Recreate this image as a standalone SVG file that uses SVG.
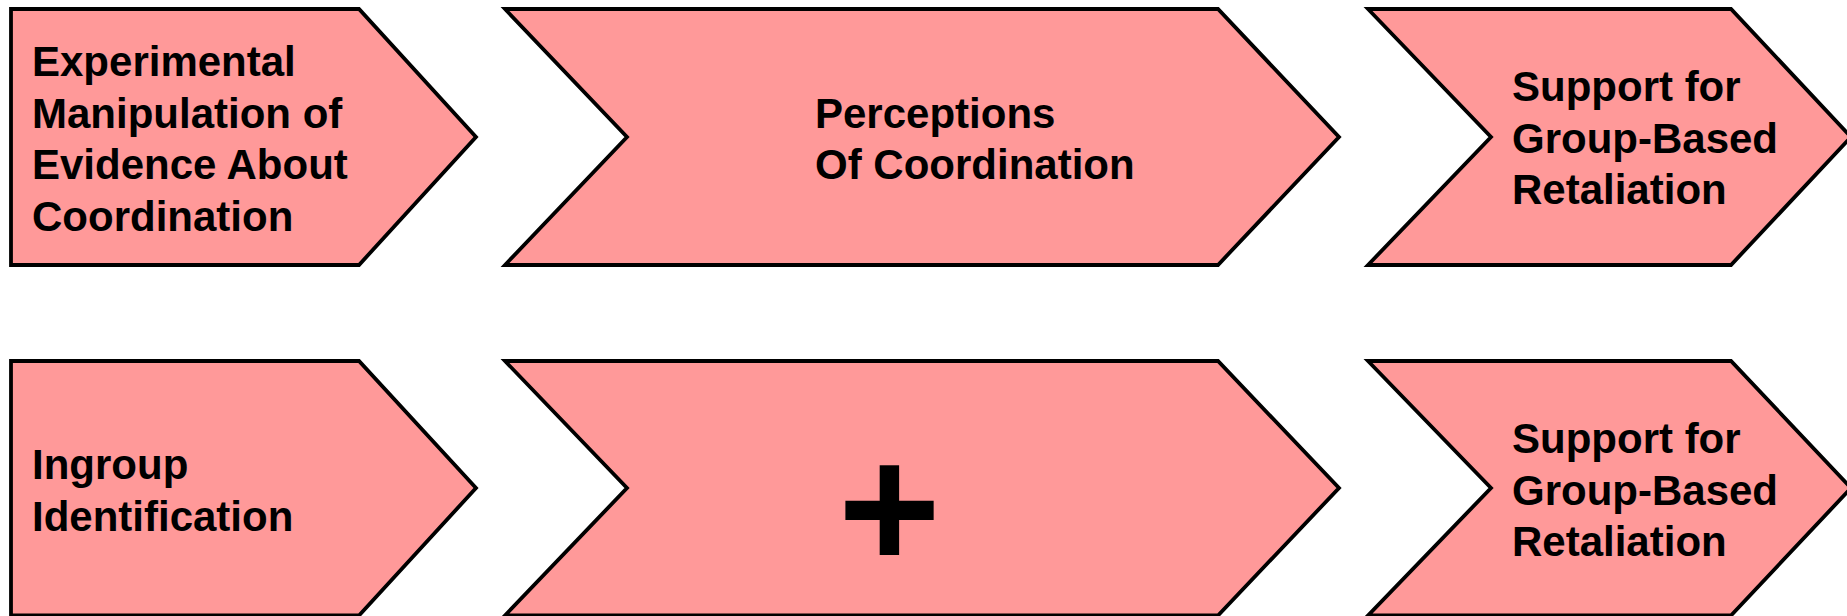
<svg xmlns="http://www.w3.org/2000/svg" width="1847" height="616" viewBox="0 0 1847 616">
<style>
.shape{fill:#FF9999;stroke:#000000;stroke-width:3.8;stroke-linejoin:miter}
.lbl{font-family:"Liberation Sans",Arial,sans-serif;font-weight:bold;font-size:42px;fill:#000000}
.plus{font-family:"Liberation Sans",Arial,sans-serif;font-weight:bold;font-size:176px;fill:#000000}
</style>
<rect x="0" y="0" width="1847" height="616" fill="#FFFFFF"/>
<g id="connectors"></g>
<g id="n1">
<polygon class="shape" points="11,9 359,9 476,137 359,265 11,265"/>
<text class="lbl" x="32" y="76">Experimental</text>
<text class="lbl" x="32" y="127.5">Manipulation of</text>
<text class="lbl" x="32" y="179">Evidence About</text>
<text class="lbl" x="32" y="230.5">Coordination</text>
</g>
<g id="n2">
<polygon class="shape" points="505,9 1218,9 1339,137 1218,265 505,265 627,137"/>
<text class="lbl" x="815" y="127.5">Perceptions</text>
<text class="lbl" x="815" y="179">Of Coordination</text>
</g>
<g id="n3">
<polygon class="shape" points="1368,9 1731,9 1851,137 1731,265 1368,265 1491,137"/>
<text class="lbl" x="1512" y="101">Support for</text>
<text class="lbl" x="1512" y="152.5">Group-Based</text>
<text class="lbl" x="1512" y="204">Retaliation</text>
</g>
<g id="n4">
<polygon class="shape" points="11,361 359,361 476,488 359,615.5 11,615.5"/>
<text class="lbl" x="32" y="479">Ingroup</text>
<text class="lbl" x="32" y="531">Identification</text>
</g>
<g id="n5">
<polygon class="shape" points="505,361 1218,361 1339,488 1218,615.5 505,615.5 627,488"/>
<text class="plus" x="889.5" y="569" text-anchor="middle">+</text>
</g>
<g id="n6">
<polygon class="shape" points="1368,361 1731,361 1851,488 1731,615.5 1368,615.5 1491,488"/>
<text class="lbl" x="1512" y="453">Support for</text>
<text class="lbl" x="1512" y="504.5">Group-Based</text>
<text class="lbl" x="1512" y="556">Retaliation</text>
</g>
</svg>
